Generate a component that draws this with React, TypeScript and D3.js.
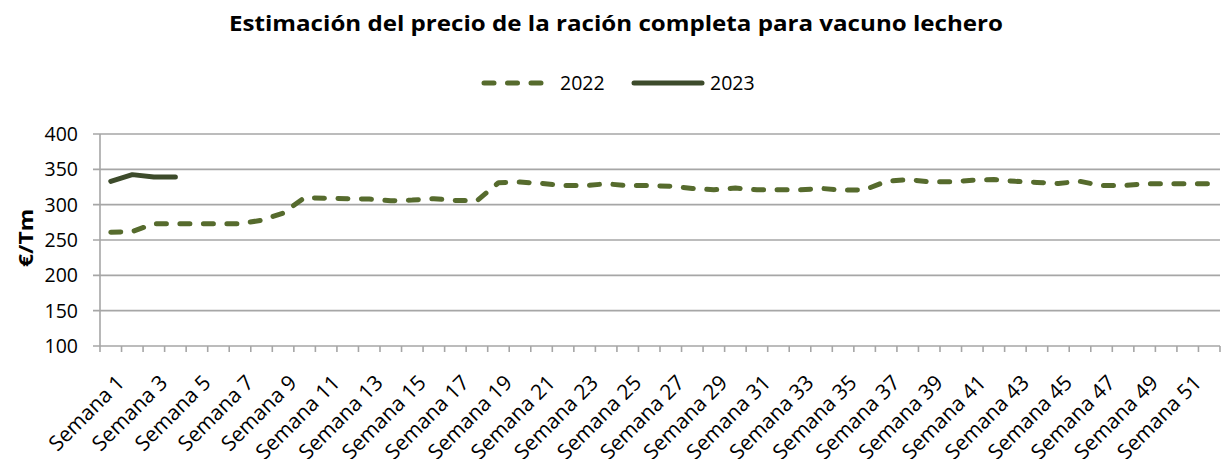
import React from "react";
import * as d3 from "d3";

const weeks: string[] = Array.from({ length: 52 }, (_, i) => `Semana ${i + 1}`);
const values2022: number[] = [
  261, 262, 273, 273, 273, 273, 273, 278, 288, 310,
  309, 308.5, 308, 305.5, 306.5, 308.5, 306, 305.5, 331, 332,
  330, 327, 327, 329.5, 327, 327, 326, 323, 321, 323.5,
  321, 321, 321, 323, 320.5, 321, 333, 335.5, 332.5, 332.5,
  334.5, 335.5, 333, 331.5, 330, 333, 327, 327, 329.5, 329.5,
  329.5, 329.5,
];
const values2023: number[] = [333, 342.5, 339, 339];
const yTicks: number[] = [100, 150, 200, 250, 300, 350, 400];
const seriesNames: string[] = ["2022", "2023"];
const title = "Estimación del precio de la ración completa para vacuno lechero";
const yTitle = "€/Tm";

const W = 1227;
const H = 459;
const FONT = "'Open Sans', Lato, sans-serif";
const C2022 = "#566B2D";
const C2023 = "#3D4B2B";
const GRID = "#A6A6A6";

export default function App() {
  const left = 100, right = 1220, top = 134, bottom = 346;
  const x = d3.scaleBand<string>().domain(weeks).range([left, right]).padding(0);
  const y = d3.scaleLinear().domain([100, 400]).range([bottom, top]);
  const cx = (w: string) => (x(w) as number) + x.bandwidth() / 2;

  const line = d3
    .line<number>()
    .x((_, i) => cx(weeks[i]))
    .y((d) => y(d));

  const boundaries = weeks.map((w) => x(w) as number).concat([right]);

  return (
    <svg width={W} height={H} style={{ display: "block", position: "absolute", left: 0, top: 0 }} fontFamily={FONT}>
      <rect width={W} height={H} fill="#fff" />
      <text x={229} y={31} fontSize={21} fontWeight={700} fill="#000" textLength={774} lengthAdjust="spacingAndGlyphs">
        {title}
      </text>
      {/* legend */}
      <g>
        <line x1={484} x2={551} y1={83} y2={83} stroke={C2022} strokeWidth={5} strokeDasharray="10 13.5" strokeLinecap="round" />
        <text x={560} y={90} fontSize={19.5} fill="#000">{seriesNames[0]}</text>
        <line x1={634} x2={702} y1={83} y2={83} stroke={C2023} strokeWidth={5} strokeLinecap="round" />
        <text x={710} y={90} fontSize={19.5} fill="#000">{seriesNames[1]}</text>
      </g>
      {/* grid */}
      {yTicks.map((t) => (
        <g key={t}>
          <line x1={left - 7} x2={right} y1={y(t)} y2={y(t)} stroke={GRID} strokeWidth={1.6} />
          <text x={78} y={y(t) + 7} textAnchor="end" fontSize={19.5} fill="#000">{t}</text>
        </g>
      ))}
      <line x1={left} x2={left} y1={top} y2={bottom} stroke={GRID} strokeWidth={1.6} />
      {boundaries.map((b, i) => (
        <line key={i} x1={b} x2={b} y1={bottom} y2={bottom + 6} stroke={GRID} strokeWidth={1.6} />
      ))}
      {weeks.map((w, i) =>
        i % 2 === 0 ? (
          <text
            key={w}
            transform={`translate(${cx(w) + 15},${bottom + 38}) rotate(-45)`}
            textAnchor="end"
            fontSize={21}
            fill="#000"
          >
            {w}
          </text>
        ) : null
      )}
      <text transform={`translate(33,238) rotate(-90)`} textAnchor="middle" fontSize={20} fontWeight={700} fill="#000" textLength={58} lengthAdjust="spacingAndGlyphs">
        {yTitle}
      </text>
      {/* series */}
      <path d={line(values2022) || ""} fill="none" stroke={C2022} strokeWidth={5} strokeDasharray="10 13.5" strokeLinecap="round" strokeLinejoin="round" />
      <path d={line(values2023) || ""} fill="none" stroke={C2023} strokeWidth={5} strokeLinecap="round" strokeLinejoin="round" />
    </svg>
  );
}
